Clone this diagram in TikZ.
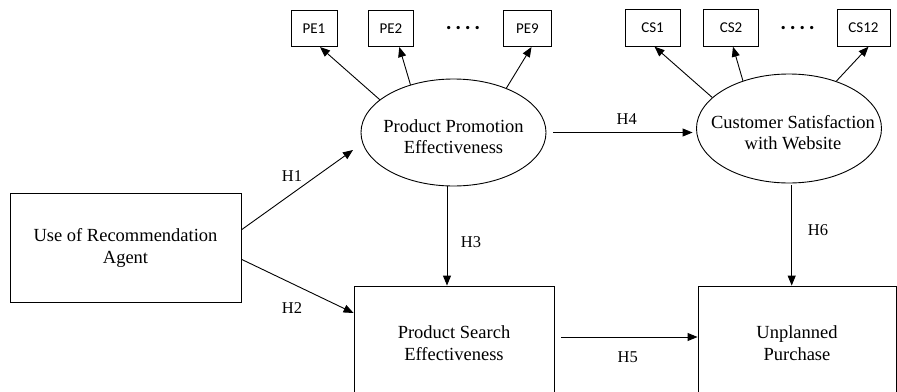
\documentclass[tikz,border=0pt]{standalone}
\usepackage{fontspec}
\setmainfont{Liberation Serif}
\newfontfamily\tms{Liberation Serif}
\newfontfamily\calib{Carlito}
\usetikzlibrary{shapes.geometric,arrows.meta,calc}
\begin{document}
\begin{tikzpicture}[x=1pt,y=-1pt,line width=0.9pt,
  arr/.style={-{Triangle[length=10pt,width=8pt]}},
  ell/.style={ellipse,draw,inner sep=0pt,minimum width=185pt,minimum height=107pt},
  bigbox/.style={rectangle,draw,inner sep=0pt,align=center,font=\tms\fontsize{18.5}{22}\selectfont},
  txt/.style={inner sep=0pt,align=center,font=\tms\fontsize{18.5}{21}\selectfont},
  ind/.style={rectangle,draw,inner sep=0pt,minimum height=36.5pt,font=\calib\fontsize{15}{18}\selectfont},
  hl/.style={inner sep=0pt,font=\tms\fontsize{16.5}{18}\selectfont},
  dots/.style={inner sep=0pt,font=\calib\bfseries\fontsize{22}{22}\selectfont}
]
\useasboundingbox (0,0) rectangle (897,391);
\clip (0,0) rectangle (897,391);

% indicator boxes
\node[ind,minimum width=46pt] (pe1) at (314,28.3) {PE1};
\node[ind,minimum width=44.6pt] (pe2) at (391,28.3) {PE2};
\node[ind,minimum width=48.4pt] (pe9) at (527.5,28.3) {PE9};
\node[dots] (ped) at (463,28) {.\,.\,.\,.};
\node[ind,minimum width=55pt] (cs1) at (652.5,28) {CS1};
\node[ind,minimum width=55.7pt] (cs2) at (731,28) {CS2};
\node[ind,minimum width=53pt] (cs12) at (863.5,28) {CS12};
\node[dots] (csd) at (797.5,28) {.\,.\,.\,.};

% latent constructs
\node[ell] (pp) at (453.5,132.5) {};
\node[txt] (pptxt) at ($(pp.center)+(0,4)$) {Product Promotion\\Effectiveness};
\node[ell,minimum height=109pt] (cs) at (789,128.5) {};
\node[txt] (cstxt) at ($(cs.center)+(4,4)$) {Customer Satisfaction\\with Website};

\node[bigbox,minimum width=231pt,minimum height=109pt] (ura) at (125.5,247.8) {Use of Recommendation\\Agent};
\node[bigbox,minimum width=200pt,minimum height=114pt] (ps) at (454,343) {Product Search\\Effectiveness};
\node[bigbox,minimum width=198pt,minimum height=114pt] (up) at (797,343) {Unplanned\\Purchase};

% measurement arrows
\draw[arr] (pp.156) -- ($(pe1.south)+(6,0)$);
\draw[arr] (pp.132) -- ($(pe2.south)+(8.3,0)$);
\draw[arr] (pp.40.6) -- ($(pe9.south)+(4,0)$);
\draw[arr] (cs.158) -- ($(cs1.south)+(2,0)$);
\draw[arr] (cs.134) -- ($(cs2.south)+(2,0)$);
\draw[arr] (cs.45) -- ($(cs12.south)+(5,0)$);

% structural paths
\draw[arr] ($(ura.east)+(0,-18)$) -- ($(pp.center)+(-100.5,17.5)$);
\draw[arr] ($(ura.east)+(0,11.5)$) -- ($(ps.west)+(0,-30)$);
\draw[arr] ($(pp.south)+(-6.5,0)$) -- ($(ps.north)+(-7,0)$);
\draw[arr] ($(pp.east)+(7,0)$) -- ($(pp.east -| cs.west)+(-3.5,0)$);
\draw[arr] ($(ps.east)+(7,-6)$) -- ($(up.west)+(0,-6)$);
\draw[arr] ($(cs.south)+(2.7,2)$) -- ($(up.north)+(-5.3,0)$);

% labels
\node[hl] (h1) at (292,176) {H1};
\node[hl] (h2) at (292,308) {H2};
\node[hl] (h3) at (471,242) {H3};
\node[hl] (h4) at (626.7,118.7) {H4};
\node[hl] (h5) at (627.7,357.5) {H5};
\node[hl] (h6) at (818,230) {H6};
\end{tikzpicture}
\end{document}
